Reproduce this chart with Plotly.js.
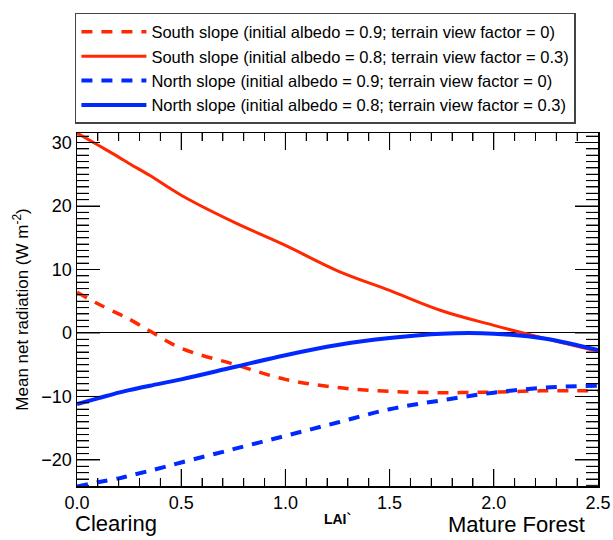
<!DOCTYPE html>
<html>
<head>
<meta charset="utf-8">
<script src="https://cdn.plot.ly/plotly-3.0.1.min.js"></script>
<style>html,body{margin:0;padding:0;background:#fff;}#chart{width:613px;height:540px;}</style>
</head>
<body>
<div id="chart"></div>
<script>
// LAI values (x)
const lai = [0.0, 0.1, 0.2, 0.25, 0.35, 0.5, 0.75, 1.0, 1.25, 1.5, 1.75, 2.0, 2.25, 2.5];
// South slope, albedo 0.9, view factor 0
const southDashed = [6.4, 4.6, 3.0, 2.2, 0.3, -2.4, -4.9, -7.3, -8.6, -9.2, -9.4, -9.3, -9.1, -9.1];
// South slope, albedo 0.8, view factor 0.3
const southSolid = [31.5, 29.6, 27.7, 26.7, 24.8, 21.7, 17.5, 13.8, 9.8, 6.7, 3.5, 1.2, -0.9, -2.9];
// North slope, albedo 0.9, view factor 0
const northDashed = [-24.2, -23.5, -22.9, -22.5, -21.7, -20.4, -18.3, -16.2, -14.1, -12.0, -10.6, -9.4, -8.6, -8.3];
// North slope, albedo 0.8, view factor 0.3
const northSolid = [-11.2, -10.3, -9.4, -9.0, -8.3, -7.3, -5.4, -3.5, -1.9, -0.8, -0.1, -0.1, -0.9, -2.7];

const names = [
  'South slope (initial albedo = 0.9; terrain view factor = 0)',
  'South slope (initial albedo = 0.8; terrain view factor = 0.3)',
  'North slope (initial albedo = 0.9; terrain view factor = 0)',
  'North slope (initial albedo = 0.8; terrain view factor = 0.3)'
];
const red = 'rgb(255,40,0)';
const blue = 'rgb(0,40,255)';
const dashPat = '11px,9px';

// axis ranges and tick spacing
const xRange = [0, 2.5], yRange = [-24.1, 31.5];
const xMajor = 0.5, xMinor = 0.1, yMajor = 10, yMinor = 1;

// inside tick decoration on all four sides (axis furniture, built from the tick spacing)
const plotW = 613 - 77 - 15, plotH = 540 - 133 - 54;
const xPerPx = (xRange[1] - xRange[0]) / plotW, yPerPx = (yRange[1] - yRange[0]) / plotH;
const tx = [], ty = [], ux = [], uy = [];
for (let i = 1; i < Math.round(xRange[1] / xMinor); i++) {
  const v = i * xMinor;
  const len = (i % Math.round(xMajor / xMinor) === 0 ? 17 : 8) * yPerPx;
  tx.push(v, v, null, v, v, null);
  ty.push(yRange[0], yRange[0] + len, null, yRange[1], yRange[1] - len, null);
}
for (let v = Math.ceil(yRange[0]); v <= Math.floor(yRange[1]); v += yMinor) {
  const len = (v % yMajor === 0 ? 23 : 12) * xPerPx;
  ux.push(xRange[0], xRange[0] + len, null, xRange[1], xRange[1] - len, null);
  uy.push(v, v, null, v, v, null);
}

const traces = [
  {x: tx, y: ty, mode: 'lines', showlegend: false, hoverinfo: 'skip', connectgaps: false, line: {color: '#000', width: 1}},
  {x: ux, y: uy, mode: 'lines', showlegend: false, hoverinfo: 'skip', connectgaps: false, line: {color: '#000', width: 1}},
  {x: lai, y: southDashed, name: names[0], mode: 'lines', line: {color: red, width: 3.5, dash: dashPat, shape: 'spline'}},
  {x: lai, y: southSolid, name: names[1], mode: 'lines', line: {color: red, width: 3, shape: 'spline'}},
  {x: lai, y: northDashed, name: names[2], mode: 'lines', line: {color: blue, width: 4, dash: dashPat, shape: 'spline'}},
  {x: lai, y: northSolid, name: names[3], mode: 'lines', line: {color: blue, width: 4, shape: 'spline'}}
];

const fontFam = '"Liberation Sans", Arial, Helvetica, sans-serif';
const layout = {
  width: 613, height: 540,
  margin: {l: 77, r: 15, t: 133, b: 54, pad: 0, autoexpand: false},
  font: {family: fontFam, color: '#000', size: 16},
  showlegend: true,
  legend: {
    x: -0.004, xanchor: 'left', y: 1.34, yanchor: 'top',
    bordercolor: '#444', borderwidth: 1.5, bgcolor: '#fff',
    font: {family: fontFam, size: 16.5, color: '#000'},
    itemwidth: 65
  },
  xaxis: {
    range: xRange, dtick: xMajor, tickformat: '.1f',
    ticks: 'inside', ticklen: 17, tickcolor: '#000',
    minor: {dtick: xMinor, ticks: 'inside', ticklen: 8, tickcolor: '#000'},
    showline: true, linecolor: '#000', linewidth: 1.5, mirror: 'ticks',
    gridcolor: 'rgba(0,0,0,0)', zeroline: false,
    tickfont: {size: 18, family: fontFam},
    title: {text: '<b>LAI`</b>', font: {size: 14, family: fontFam}, standoff: 2}
  },
  yaxis: {
    range: yRange, dtick: yMajor,
    ticks: 'inside', ticklen: 23, tickcolor: '#000',
    minor: {dtick: yMinor, ticks: 'inside', ticklen: 12, tickcolor: '#000'},
    showline: true, linecolor: '#000', linewidth: 1.5, mirror: 'ticks',
    gridcolor: 'rgba(0,0,0,0)', zeroline: true, zerolinecolor: '#000', zerolinewidth: 1,
    tickfont: {size: 18, family: fontFam},
    title: {text: 'Mean net radiation (W m<sup>-2</sup>)', font: {size: 17, family: fontFam}, standoff: 8}
  },
  annotations: [
    {text: 'Clearing', xref: 'paper', yref: 'paper', x: 0.075, y: -0.106, xanchor: 'center', yanchor: 'middle', showarrow: false, font: {size: 22, family: fontFam}},
    {text: 'Mature Forest', xref: 'paper', yref: 'paper', x: 0.843, y: -0.150, xanchor: 'center', yanchor: 'bottom', showarrow: false, font: {size: 22, family: fontFam}}
  ]
};

Plotly.newPlot('chart', traces, layout, {displayModeBar: false, staticPlot: true});
</script>
</body>
</html>
